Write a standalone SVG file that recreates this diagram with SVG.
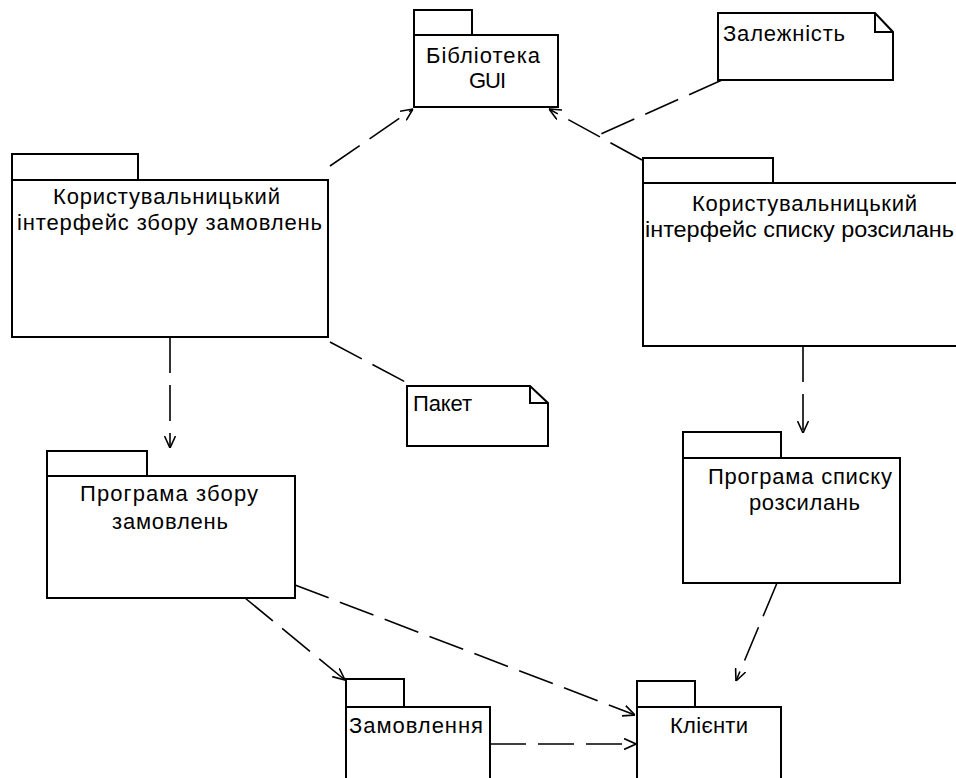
<svg xmlns="http://www.w3.org/2000/svg" width="956" height="778" viewBox="0 0 956 778">
<style>
.box{fill:#fff;stroke:#000;stroke-width:2}
.t{font-family:"Liberation Sans",Arial,sans-serif;font-size:22px;fill:#000}
.c{stroke:#000;stroke-width:1.6;fill:none;stroke-dasharray:36 12}
</style>
<defs>
<marker id="arr" viewBox="0 0 12 12" refX="12" refY="6" markerWidth="12" markerHeight="12" orient="auto" markerUnits="userSpaceOnUse">
<path d="M0,0.5 L12,6 L0,11.5" fill="none" stroke="#000" stroke-width="1.6"/>
</marker>
</defs>
<rect width="956" height="778" fill="#fff"/>
<g id="connectors">
<path class="c" d="M330,166 L413,109" marker-end="url(#arr)"/>
<path class="c" d="M642,160 L549,109" marker-end="url(#arr)"/>
<path class="c" d="M722,80 L594,137"/>
<path class="c" d="M170,337 L170,448" marker-end="url(#arr)"/>
<path class="c" d="M330,342 L413,386"/>
<path class="c" d="M803,346 L803,433" marker-end="url(#arr)"/>
<path class="c" d="M245,598 L345,680" marker-end="url(#arr)"/>
<path class="c" d="M295,585 L635,715" marker-end="url(#arr)"/>
<path class="c" d="M490,744 L636,744" marker-end="url(#arr)"/>
<path class="c" d="M777,583 L736,681" marker-end="url(#arr)"/>
</g>
<g id="gui">
<rect class="box" x="414" y="10" width="58" height="25"/>
<rect class="box" x="414" y="35" width="144" height="72"/>
<text class="t" x="426" y="63" textLength="114" lengthAdjust="spacing">Бібліотека</text>
<text class="t" x="469" y="88" textLength="37" lengthAdjust="spacing">GUI</text>
</g>
<g id="note-dep">
<path class="box" d="M718,13 L875,13 L893,32 L893,80 L718,80 Z"/>
<path d="M875,13 L875,32 L893,32" fill="none" stroke="#000" stroke-width="2"/>
<text class="t" x="723" y="41" textLength="122" lengthAdjust="spacing">Залежність</text>
</g>
<g id="ui-orders">
<rect class="box" x="12" y="154" width="126" height="26"/>
<rect class="box" x="12" y="180" width="316" height="157"/>
<text class="t" x="53" y="204" textLength="227" lengthAdjust="spacing">Користувальницький</text>
<text class="t" x="17" y="230" textLength="305" lengthAdjust="spacing">інтерфейс збору замовлень</text>
</g>
<g id="ui-mailing">
<rect class="box" x="643" y="158" width="130" height="25"/>
<rect class="box" x="643" y="183" width="322" height="163"/>
<text class="t" x="692" y="211" textLength="225" lengthAdjust="spacing">Користувальницький</text>
<text class="t" x="645" y="237" textLength="309" lengthAdjust="spacingAndGlyphs">інтерфейс списку розсилань</text>
</g>
<g id="note-pkg">
<path class="box" d="M407,386 L530,386 L548,403 L548,446 L407,446 Z"/>
<path d="M530,386 L530,403 L548,403" fill="none" stroke="#000" stroke-width="2"/>
<text class="t" x="413" y="411" textLength="59" lengthAdjust="spacing">Пакет</text>
</g>
<g id="prog-orders">
<rect class="box" x="47" y="451" width="100" height="25"/>
<rect class="box" x="47" y="476" width="248" height="122"/>
<text class="t" x="80" y="501" textLength="178" lengthAdjust="spacing">Програма збору</text>
<text class="t" x="112" y="529" textLength="116" lengthAdjust="spacing">замовлень</text>
</g>
<g id="prog-mailing">
<rect class="box" x="683" y="432" width="98" height="26"/>
<rect class="box" x="683" y="458" width="217" height="125"/>
<text class="t" x="708" y="484" textLength="184" lengthAdjust="spacing">Програма списку</text>
<text class="t" x="749" y="510" textLength="111" lengthAdjust="spacing">розсилань</text>
</g>
<g id="orders">
<rect class="box" x="346" y="679" width="58" height="28"/>
<rect class="box" x="346" y="707" width="144" height="90"/>
<text class="t" x="349" y="733" textLength="134" lengthAdjust="spacing">Замовлення</text>
</g>
<g id="clients">
<rect class="box" x="637" y="681" width="58" height="26"/>
<rect class="box" x="637" y="707" width="144" height="90"/>
<text class="t" x="670" y="733" textLength="78" lengthAdjust="spacing">Клієнти</text>
</g>
</svg>
